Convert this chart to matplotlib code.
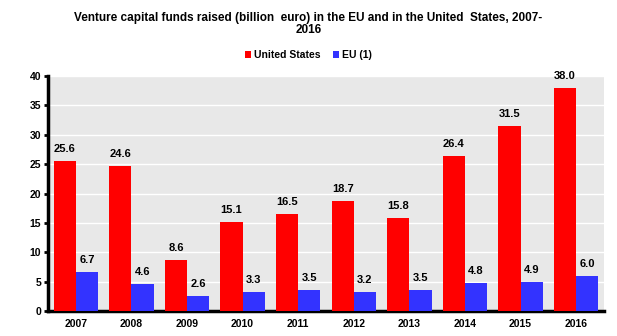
import numpy as np
import matplotlib
matplotlib.use("Agg")
import matplotlib.pyplot as plt

plt.rcParams['font.family'] = ['Liberation Sans', 'DejaVu Sans']

years = ['2007', '2008', '2009', '2010', '2011', '2012', '2013', '2014', '2015', '2016']
us = [25.6, 24.6, 8.6, 15.1, 16.5, 18.7, 15.8, 26.4, 31.5, 38.0]
eu = [6.7, 4.6, 2.6, 3.3, 3.5, 3.2, 3.5, 4.8, 4.9, 6.0]

fig = plt.figure(figsize=(6.17, 3.36), dpi=100)
ax = fig.add_axes([48 / 617, 1 - 311 / 336, 556 / 617, 235 / 336])
ax.set_facecolor('#e8e8e8')

x = np.arange(len(years))
w = 0.4
b1 = ax.bar(x - w / 2, us, w, color='#ff0000', label='United States', zorder=3)
b2 = ax.bar(x + w / 2, eu, w, color='#3333ff', label='EU (1)', zorder=3)

lab_font = dict(fontsize=8, fontweight='bold', family=['Liberation Sans Narrow', 'Liberation Sans'])
for bars, vals in ((b1, us), (b2, eu)):
    for r, v in zip(bars, vals):
        ax.text(r.get_x() + r.get_width() / 2, v + 1.2, f'{v:.1f}',
                ha='center', va='bottom', zorder=4, **lab_font)

ax.set_xlim(-0.5, len(years) - 0.5)
ax.set_ylim(0, 40)
ax.set_yticks(range(0, 41, 5))
ax.set_xticks(x)
ax.set_xticklabels(years)
ax.yaxis.grid(True, color='white', linewidth=1, zorder=1)
ax.tick_params(axis='x', length=0, pad=6)
ax.tick_params(axis='y', length=3, width=2, direction='out', pad=2)
for lbl in ax.get_xticklabels() + ax.get_yticklabels():
    lbl.set_fontsize(7.5)
    lbl.set_fontweight('bold')

for s in ['top', 'right']:
    ax.spines[s].set_visible(False)
ax.spines['left'].set_linewidth(2.5)
ax.spines['bottom'].set_linewidth(2.5)

fig.text(0.5, 1 - 24 / 336,
         'Venture capital funds raised (billion  euro) in the EU and in the United  States, 2007-\n2016',
         ha='center', va='center', fontsize=8.5, fontweight='bold', linespacing=1.1)

fig.legend(loc='center', bbox_to_anchor=(0.5, 1 - 55 / 336), ncol=2, frameon=False,
           fontsize=7.5, prop={'weight': 'bold', 'size': 7.5}, handlelength=0.6, handleheight=0.6,
           handletextpad=0.3, columnspacing=1.2)

fig.savefig('out.png', dpi=100)
